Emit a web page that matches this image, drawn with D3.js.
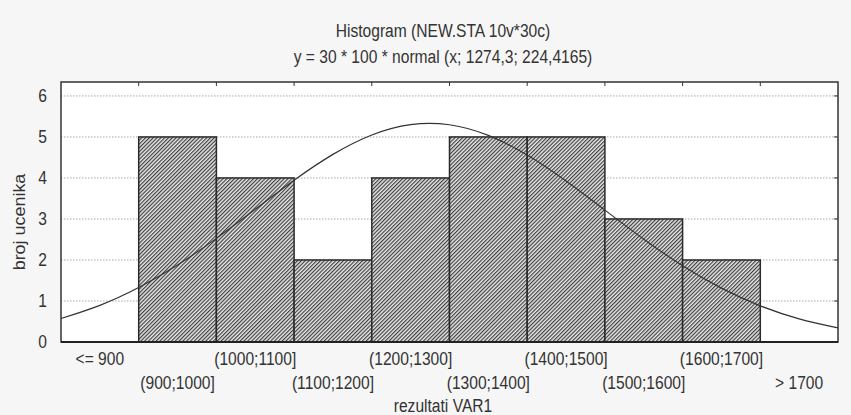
<!DOCTYPE html>
<html>
<head>
<meta charset="utf-8">
<script src="https://cdn.jsdelivr.net/npm/d3@7"></script>
<style>
  html, body { margin: 0; padding: 0; background: #f6f6f6; }
  svg { display: block; }
  text { font-family: "Liberation Sans", Arial, sans-serif; fill: #333; }
</style>
</head>
<body>
<svg id="chart" width="851" height="415"></svg>
<script>
const titleLines = ["Histogram (NEW.STA 10v*30c)", "y = 30 * 100 * normal (x; 1274,3; 224,4165)"];
const xTitle = "rezultati VAR1";
const yTitle = "broj ucenika";
const categories = ["<= 900", "(900;1000]", "(1000;1100]", "(1100;1200]", "(1200;1300]",
                    "(1300;1400]", "(1400;1500]", "(1500;1600]", "(1600;1700]", "> 1700"];
const counts = [0, 5, 4, 2, 4, 5, 5, 3, 2, 0];
const yTicks = [0, 1, 2, 3, 4, 5, 6];
// fitted normal curve, values read along the x range (800 .. 1800)
const curveX = [800, 850, 900, 950, 1000, 1050, 1100, 1150, 1200, 1250, 1300,
                1350, 1400, 1450, 1500, 1550, 1600, 1650, 1700, 1750, 1800];
const curveY = [0.572, 0.893, 1.327, 1.877, 2.527, 3.236, 3.945, 4.575, 5.049, 5.302, 5.298,
                5.038, 4.559, 3.925, 3.216, 2.508, 1.860, 1.313, 0.882, 0.564, 0.343];

const svg = d3.select("#chart");
const L = 61, R = 838, T = 82, B = 342;
const SY = 1.15; // vertical text stretch
const FS = 15.6;

const x = d3.scaleBand().domain(categories).range([L, R]).padding(0);
const xv = d3.scaleLinear().domain([800, 1800]).range([L, R]);
const y = d3.scaleLinear().domain([0, 6.34]).range([B, T]);

// hatch pattern
const defs = svg.append("defs");
const pat = defs.append("pattern").attr("id", "hatch")
  .attr("patternUnits", "userSpaceOnUse").attr("width", 2.7).attr("height", 10)
  .attr("patternTransform", "rotate(45)");
pat.append("rect").attr("width", 2.7).attr("height", 10).attr("fill", "#e6e6e6");
pat.append("rect").attr("width", 1.15).attr("height", 10).attr("fill", "#3c3c3c");

// plot background
svg.append("rect").attr("x", L).attr("y", T).attr("width", R - L).attr("height", B - T).attr("fill", "#ffffff");

// gridlines
svg.append("g").selectAll("line").data(yTicks.filter(d => d > 0)).join("line")
  .attr("x1", L).attr("x2", R).attr("y1", d => y(d)).attr("y2", d => y(d))
  .attr("stroke", "#a8a8a8").attr("stroke-width", 1).attr("stroke-dasharray", "1.5,1.5");

// bars
svg.append("g").selectAll("rect").data(categories.map((c, i) => ({c, v: counts[i]})).filter(d => d.v > 0)).join("rect")
  .attr("x", d => x(d.c)).attr("width", x.bandwidth())
  .attr("y", d => y(d.v)).attr("height", d => B - y(d.v))
  .attr("fill", "url(#hatch)").attr("stroke", "#2a2a2a").attr("stroke-width", 1.5);

// curve
const line = d3.line().x((d, i) => xv(curveX[i])).y(d => y(d)).curve(d3.curveNatural);
svg.append("path").datum(curveY).attr("d", line)
  .attr("fill", "none").attr("stroke", "#333").attr("stroke-width", 1.2);

// frame
svg.append("rect").attr("x", L).attr("y", T).attr("width", R - L).attr("height", B - T)
  .attr("fill", "none").attr("stroke", "#333").attr("stroke-width", 1.5);
svg.append("line").attr("x1", L).attr("x2", R).attr("y1", B).attr("y2", B)
  .attr("stroke", "#222").attr("stroke-width", 2.2);

// top ticks at bin boundaries
const bounds = categories.slice(1).map(c => x(c));
svg.append("g").selectAll("line").data(bounds).join("line")
  .attr("x1", d => d).attr("x2", d => d).attr("y1", T).attr("y2", T + 4)
  .attr("stroke", "#333").attr("stroke-width", 1);
// right ticks
svg.append("g").selectAll("line").data(yTicks.filter(d => d > 0)).join("line")
  .attr("x1", R - 4).attr("x2", R).attr("y1", d => y(d)).attr("y2", d => y(d))
  .attr("stroke", "#333").attr("stroke-width", 1);

function txt(s, tx, ty, anchor, rot) {
  const g = svg.append("g").attr("transform", `translate(${tx},${ty}) scale(1,${SY})` + (rot ? ` rotate(${rot})` : ""));
  return g.append("text").attr("text-anchor", anchor).attr("font-size", FS).text(s);
}

// y tick labels
yTicks.forEach(d => txt(String(d), 47, y(d) + 6.3, "end"));

// x tick labels (alternating rows)
categories.forEach((c, i) => txt(c, x(c) + x.bandwidth() / 2, i % 2 === 0 ? 365 : 389, "middle"));

// titles
txt(titleLines[0], 443, 37, "middle");
txt(titleLines[1], 443, 63, "middle");
txt(xTitle, 443, 412, "middle");
txt(yTitle, 25, 222, "middle", -90);
</script>
</body>
</html>
